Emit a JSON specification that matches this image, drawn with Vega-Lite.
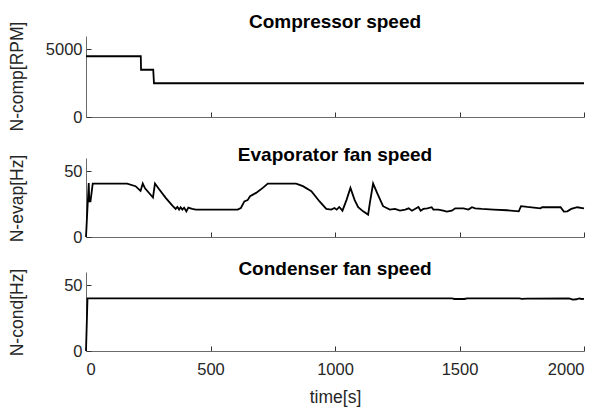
{
  "$schema": "https://vega.github.io/schema/vega-lite/v6.json",
  "background": "white",
  "padding": {"left": 8, "right": 5, "top": 13, "bottom": 2},
  "spacing": 15,
  "config": {
    "font": "Liberation Sans",
    "view": {"stroke": null},
    "axis": {
      "grid": false,
      "domainColor": "#6a6a6a",
      "domainWidth": 1,
      "tickColor": "#333333",
      "tickSize": -5,
      "labelPadding": 9,
      "labelFont": "Liberation Sans",
      "labelFontSize": 16.5,
      "labelColor": "#262626",
      "titleFont": "Liberation Sans",
      "titleFontSize": 17.5,
      "titleFontWeight": "normal",
      "titleColor": "#262626",
      "format": "d"
    },
    "title": {"font": "Liberation Sans", "fontSize": 19, "fontWeight": "bold", "color": "#000000", "offset": -11}
  },
  "datasets": {
    "comp": [
      {"t": 0, "v": 4500}, {"t": 220, "v": 4500}, {"t": 221, "v": 3500}, {"t": 270, "v": 3500},
      {"t": 273, "v": 2500}, {"t": 2000, "v": 2500}
    ],
    "evap": [
      {"t": 0, "v": 0}, {"t": 11, "v": 41}, {"t": 13, "v": 27}, {"t": 18, "v": 27}, {"t": 27, "v": 40.5},
      {"t": 165, "v": 40.5}, {"t": 199, "v": 38.6}, {"t": 219, "v": 35}, {"t": 228, "v": 40.6},
      {"t": 237, "v": 37}, {"t": 269, "v": 30}, {"t": 277, "v": 40.6}, {"t": 293, "v": 36.5},
      {"t": 320, "v": 29.7}, {"t": 347, "v": 23.9}, {"t": 360, "v": 21.3}, {"t": 367, "v": 22.8},
      {"t": 374, "v": 20.8}, {"t": 380, "v": 22.6}, {"t": 387, "v": 20.8}, {"t": 394, "v": 22.3},
      {"t": 403, "v": 19.5}, {"t": 411, "v": 22.3}, {"t": 420, "v": 21.8}, {"t": 427, "v": 21.3},
      {"t": 441, "v": 20.8}, {"t": 609, "v": 20.8}, {"t": 622, "v": 22}, {"t": 636, "v": 27},
      {"t": 649, "v": 28}, {"t": 659, "v": 31}, {"t": 683, "v": 33.5}, {"t": 710, "v": 37.3},
      {"t": 730, "v": 40.5}, {"t": 844, "v": 40.5}, {"t": 871, "v": 38.6}, {"t": 905, "v": 34.8},
      {"t": 938, "v": 27}, {"t": 965, "v": 21.3}, {"t": 985, "v": 20.8}, {"t": 998, "v": 22},
      {"t": 1007, "v": 20.8}, {"t": 1017, "v": 22.8}, {"t": 1030, "v": 20}, {"t": 1046, "v": 28},
      {"t": 1062, "v": 37.3}, {"t": 1079, "v": 28}, {"t": 1093, "v": 22.6}, {"t": 1113, "v": 19.5},
      {"t": 1133, "v": 17}, {"t": 1140, "v": 26}, {"t": 1153, "v": 40.6}, {"t": 1169, "v": 33.5},
      {"t": 1193, "v": 23.4}, {"t": 1220, "v": 20.8}, {"t": 1241, "v": 21.3}, {"t": 1261, "v": 20},
      {"t": 1282, "v": 20.8}, {"t": 1296, "v": 21.8}, {"t": 1309, "v": 20}, {"t": 1321, "v": 21.3},
      {"t": 1335, "v": 22.8}, {"t": 1344, "v": 20}, {"t": 1355, "v": 21.3}, {"t": 1371, "v": 21.8},
      {"t": 1388, "v": 22.6}, {"t": 1395, "v": 20.8}, {"t": 1415, "v": 20.8}, {"t": 1435, "v": 20},
      {"t": 1449, "v": 19.3}, {"t": 1469, "v": 20}, {"t": 1483, "v": 21.8}, {"t": 1516, "v": 21.8},
      {"t": 1536, "v": 20.8}, {"t": 1550, "v": 22.6}, {"t": 1563, "v": 21.8}, {"t": 1590, "v": 21.3},
      {"t": 1637, "v": 20.8}, {"t": 1691, "v": 20.3}, {"t": 1738, "v": 19.5}, {"t": 1747, "v": 23.4},
      {"t": 1772, "v": 22.8}, {"t": 1825, "v": 21.8}, {"t": 1832, "v": 22.6}, {"t": 1906, "v": 22.6},
      {"t": 1919, "v": 19.3}, {"t": 1933, "v": 19.5}, {"t": 1949, "v": 21.3}, {"t": 1973, "v": 22.6},
      {"t": 1993, "v": 22}, {"t": 2000, "v": 21.8}
    ],
    "cond": [
      {"t": 0, "v": 0}, {"t": 6, "v": 40}, {"t": 1470, "v": 40}, {"t": 1480, "v": 39.5},
      {"t": 1520, "v": 39.5}, {"t": 1530, "v": 40}, {"t": 1740, "v": 40}, {"t": 1750, "v": 39.6},
      {"t": 1770, "v": 39.8}, {"t": 1940, "v": 40}, {"t": 1955, "v": 39}, {"t": 1970, "v": 39.3},
      {"t": 1980, "v": 40}, {"t": 1990, "v": 39.5}, {"t": 2000, "v": 39.6}
    ]
  },
  "vconcat": [
    {
      "title": "Compressor speed",
      "width": 498,
      "height": 81,
      "data": {"name": "comp"},
      "mark": {"type": "line", "color": "#000000", "strokeWidth": 1.8},
      "encoding": {
        "x": {"field": "t", "type": "quantitative", "scale": {"domain": [0, 2000], "nice": false},
              "axis": {"title": null, "labels": false, "values": [0, 500, 1000, 1500, 2000]}},
        "y": {"field": "v", "type": "quantitative", "scale": {"domain": [0, 6000], "nice": false},
              "axis": {"title": "N-comp[RPM]", "values": [0, 5000], "titleX": -69, "titleY": 40, "titleAngle": -90, "titleAlign": "center", "titleBaseline": "middle"}}
      }
    },
    {
      "spacing": 14,
      "vconcat": [
        {
          "title": "Evaporator fan speed",
          "width": 498,
          "height": 79,
          "data": {"name": "evap"},
          "mark": {"type": "line", "color": "#000000", "strokeWidth": 1.8},
          "encoding": {
            "x": {"field": "t", "type": "quantitative", "scale": {"domain": [0, 2000], "nice": false},
                  "axis": {"title": null, "labels": false, "values": [0, 500, 1000, 1500, 2000]}},
            "y": {"field": "v", "type": "quantitative", "scale": {"domain": [0, 60], "nice": false},
                  "axis": {"title": "N-evap[Hz]", "values": [0, 50], "titleX": -69, "titleY": 40, "titleAngle": -90, "titleAlign": "center", "titleBaseline": "middle"}}
          }
        },
        {
          "title": "Condenser fan speed",
          "width": 498,
          "height": 79,
          "data": {"name": "cond"},
          "mark": {"type": "line", "color": "#000000", "strokeWidth": 1.8},
          "encoding": {
            "x": {"field": "t", "type": "quantitative", "scale": {"domain": [0, 2000], "nice": false},
                  "axis": {"title": "time[s]", "values": [0, 500, 1000, 1500, 2000], "labelPadding": 15, "titlePadding": 11}},
            "y": {"field": "v", "type": "quantitative", "scale": {"domain": [0, 60], "nice": false},
                  "axis": {"title": "N-cond[Hz]", "values": [0, 50], "titleX": -69, "titleY": 40, "titleAngle": -90, "titleAlign": "center", "titleBaseline": "middle"}}
          }
        }
      ]
    }
  ]
}
